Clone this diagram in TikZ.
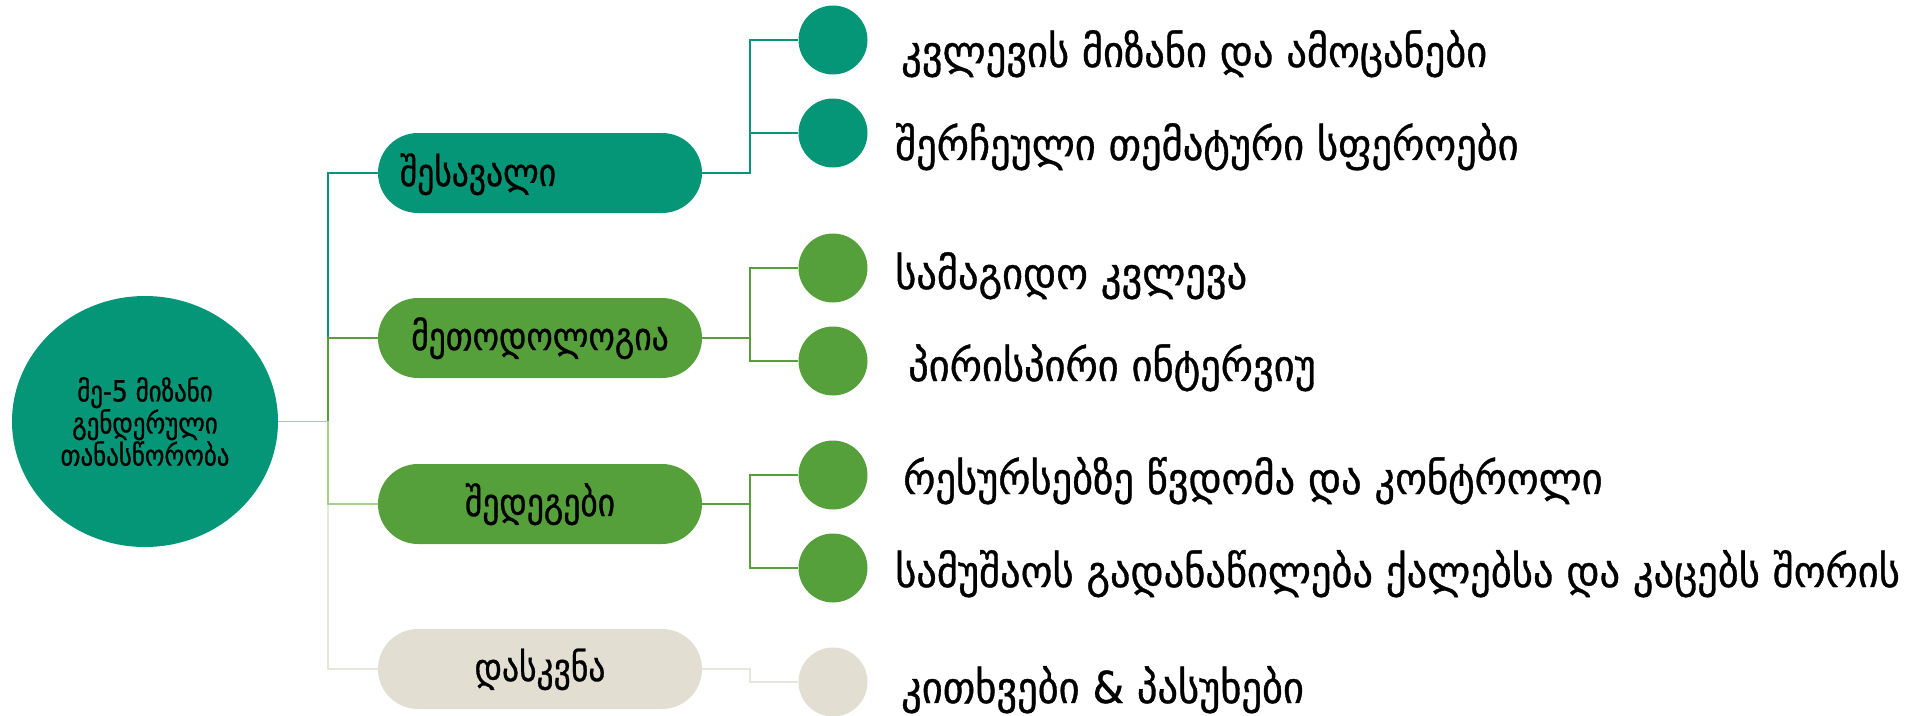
\documentclass[tikz,border=0pt]{standalone}
\usepackage{fontspec}
\newfontfamily\geo[FakeStretch=0.92,FakeBold=0.8]{DejaVu Sans}
\newfontfamily\geop[FakeStretch=0.86,FakeBold=0.8]{DejaVu Sans}
\newfontfamily\geoc[FakeStretch=0.86,FakeBold=0.8]{DejaVu Sans}
\usetikzlibrary{shapes.geometric,shapes.misc}
\definecolor{tealc}{RGB}{4,150,118}
\definecolor{greenc}{RGB}{85,160,58}
\definecolor{beigec}{RGB}{226,222,210}
\definecolor{lgreenc}{RGB}{168,208,141}
\definecolor{lbeigec}{RGB}{232,229,220}
\tikzset{
  rootnode/.style={ellipse, fill=tealc, minimum width=266pt, minimum height=251pt, inner sep=0pt,
    align=center, font=\geoc\fontsize{29}{29}\selectfont},
  pill/.style={rounded rectangle, minimum width=324pt, minimum height=80pt, inner sep=0pt},
  pilltext/.style={font=\geop\fontsize{39}{44}\selectfont, inner sep=0pt, anchor=base},
  dot/.style={circle, minimum size=69pt, inner sep=0pt},
  itemtext/.style={font=\geo\fontsize{44}{50}\selectfont, inner sep=0pt, anchor=base west},
  conn/.style={line width=1.5pt}
}
\begin{document}
\begin{tikzpicture}[x=1pt,y=-1pt]
\useasboundingbox (0,0) rectangle (1911,715);
% root
\node[rootnode] (root) at (145,421.5) {მე-5 მიზანი\\გენდერული\\თანასწორობა};
\coordinate (trunk) at (328,421.5);
% pills
\node[pill, fill=tealc] (p1) at (540,173) {};
\node[pill, fill=greenc] (p2) at (540,338) {};
\node[pill, fill=greenc] (p3) at (540,504) {};
\node[pill, fill=beigec] (p4) at (540,669) {};
\node[pilltext] (p1t) at (478,186) {შესავალი};
\node[pilltext] (p2t) at (540,350) {მეთოდოლოგია};
\node[pilltext] (p3t) at (540,516) {შედეგები};
\node[pilltext] (p4t) at (540,681) {დასკვნა};
% dots
\node[dot, fill=tealc] (c1) at (833,40) {};
\node[dot, fill=tealc] (c2) at (833,133) {};
\node[dot, fill=greenc] (c3) at (833,268) {};
\node[dot, fill=greenc] (c4) at (833,361) {};
\node[dot, fill=greenc] (c5) at (833,475) {};
\node[dot, fill=greenc] (c6) at (833,568) {};
\node[dot, fill=beigec] (c7) at (833,682) {};
% item texts
\node[itemtext] (t1) at (901,67) {კვლევის მიზანი და ამოცანები};
\node[itemtext] (t2) at (895,160) {შერჩეული თემატური სფეროები};
\node[itemtext] (t3) at (895,289) {სამაგიდო კვლევა};
\node[itemtext] (t4) at (908,381) {პირისპირი ინტერვიუ};
\node[itemtext] (t5) at (903,494) {რესურსებზე წვდომა და კონტროლი};
\node[itemtext] (t6) at (895,587) {სამუშაოს გადანაწილება ქალებსა და კაცებს შორის};
\node[itemtext] (t7) at (901,703) {კითხვები \& პასუხები};
% connectors root -> pills
\draw[conn, tealc] (root.east) -- (trunk) |- (p1.west);
\draw[conn, greenc] (root.east) -- (trunk) |- (p2.west);
\draw[conn, lbeigec] (root.east) -- (trunk) |- (p4.west);
\draw[conn, lgreenc] (root.east) -- (trunk) |- (p3.west);
% connectors pills -> dots
\draw[conn, tealc] (p1.east) -- ++(48,0) |- (c1.west);
\draw[conn, tealc] (p1.east) -- ++(48,0) |- (c2.west);
\draw[conn, greenc] (p2.east) -- ++(48,0) |- (c3.west);
\draw[conn, greenc] (p2.east) -- ++(48,0) |- (c4.west);
\draw[conn, greenc] (p3.east) -- ++(48,0) |- (c5.west);
\draw[conn, greenc] (p3.east) -- ++(48,0) |- (c6.west);
\draw[conn, lbeigec] (p4.east) -- ++(48,0) |- (c7.west);
\end{tikzpicture}
\end{document}
